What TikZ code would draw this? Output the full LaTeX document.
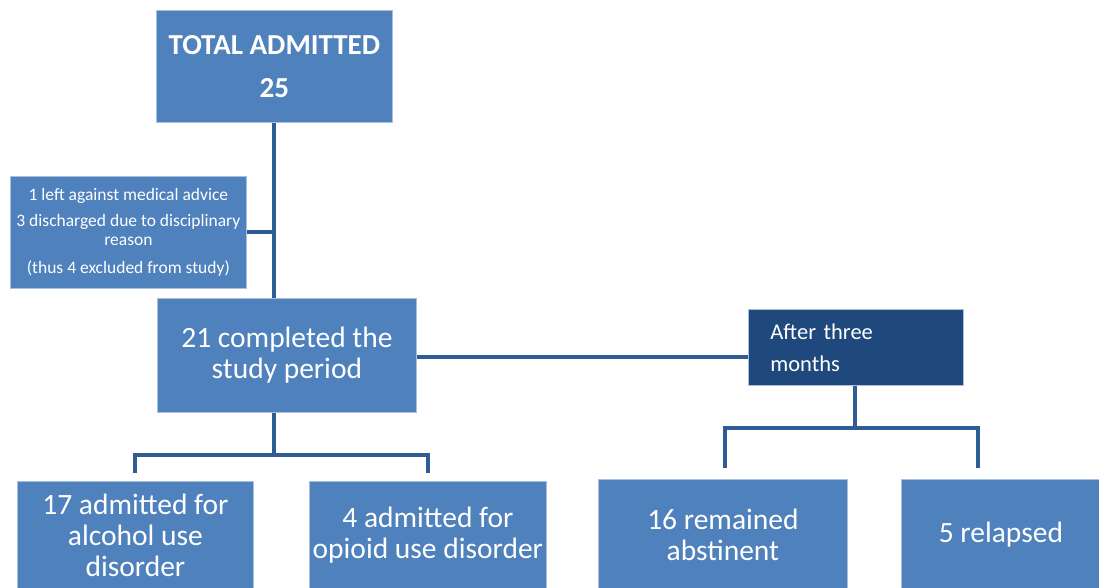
\documentclass[tikz,border=0pt]{standalone}
\usepackage{fontspec}
\setmainfont{Carlito}
\definecolor{boxblue}{HTML}{4F81BD}
\definecolor{boxedge}{HTML}{A7C0DE}
\definecolor{darkbox}{HTML}{1F497D}
\definecolor{linkblue}{HTML}{2F5C94}
\begin{document}
\begin{tikzpicture}[x=1pt,y=-1pt,
  box/.style={fill=boxblue, draw=boxedge, line width=0.8pt, text=white, align=center, inner sep=0pt, anchor=north west},
  link/.style={draw=linkblue, line width=4pt},
  big/.style={font=\fontsize{29.5}{31}\selectfont}]
\useasboundingbox (0,0) rectangle (1099,588);
\node[box, minimum width=236pt, minimum height=112pt, font=\fontsize{29}{43}\selectfont\bfseries] (total) at (156,10) {TOTAL ADMITTED\\25};
\node[box, minimum width=236pt, minimum height=112pt, font=\fontsize{17.5}{19}\selectfont] (excl) at (10,176) {1 left against medical advice\\[7pt]3 discharged due to disciplinary\\reason\\[9pt](thus 4 excluded from study)};
\node[box, minimum width=259pt, minimum height=114pt, big] (done) at (157,298) {21 completed the\\study period};
\node[box, fill=darkbox, minimum width=215pt, minimum height=76pt, align=left, text width=171pt, font=\fontsize{22.5}{32}\selectfont] (after) at (748,309) {After three\\months};
\node[box, minimum width=236pt, minimum height=108pt, big] (alc) at (17,481) {17 admitted for\\alcohol use\\disorder};
\node[box, minimum width=237pt, minimum height=108pt, big] (opi) at (309,481) {4 admitted for\\opioid use disorder};
\node[box, minimum width=249pt, minimum height=110pt, big] (abst) at (598,479) {16 remained\\abstinent};
\node[box, minimum width=199pt, minimum height=110pt, big] (rel) at (901,479) {5 relapsed};
\coordinate (j1) at (274,232);
\coordinate (j2) at (274,455);
\coordinate (j3) at (855,428);
\draw[link] (total.south -| j1) -- (done.north -| j1);
\draw[link] (excl.east |- j1) -- (j1);
\draw[link] (done.east |- 0,357) -- (after.west |- 0,357);
\draw[link] (done.south -| j2) -- (j2);
\draw[link] (135,473) -- (135,455) -- (428,455) -- (428,473);
\draw[link] (after.south -| j3) -- (j3);
\draw[link] (725,468) -- (725,428) -- (978,428) -- (978,468);
\end{tikzpicture}
\end{document}
